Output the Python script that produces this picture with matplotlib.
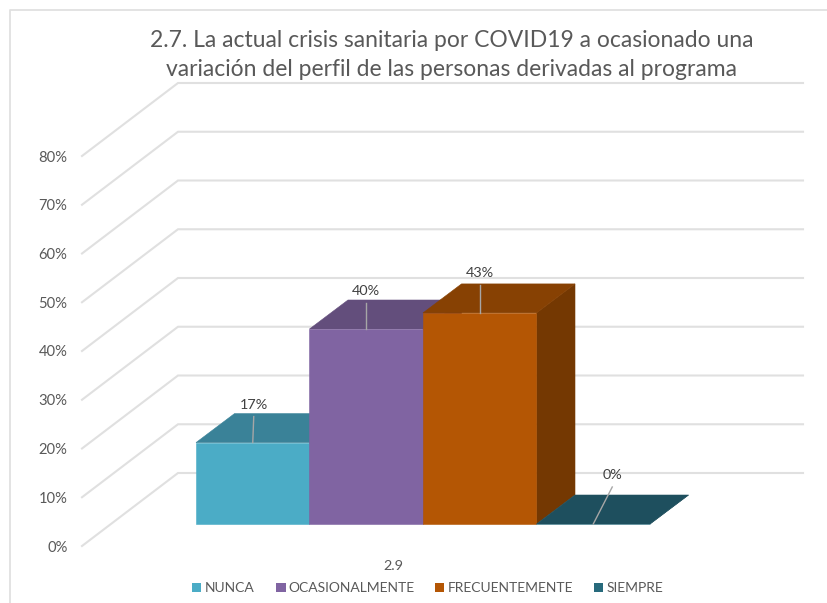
import matplotlib
matplotlib.use("Agg")
import matplotlib.pyplot as plt
from matplotlib.patches import Polygon, Rectangle

title = "2.7. La actual crisis sanitaria por COVID19 a ocasionado una\nvariación del perfil de las personas derivadas al programa"
categories = ["NUNCA", "OCASIONALMENTE", "FRECUENTEMENTE", "SIEMPRE"]
values = [16.7, 40, 43.3, 0]
value_labels = ["17%", "40%", "43%", "0%"]
axis_ticks = [0, 10, 20, 30, 40, 50, 60, 70, 80]
axis_name = "2.9"

front_colors = ["#4BACC6", "#8064A2", "#B45604", "#276A7C"]
top_colors = ["#3A8298", "#634E7C", "#874103", "#1E4F5E"]
side_colors = ["#2F6C7E", "#523F68", "#743802", "#1A4552"]

W, H = 828, 603
plt.rcParams["font.family"] = ["Lato", "DejaVu Sans"]

fig = plt.figure(figsize=(W / 100, H / 100), dpi=100)
ax = fig.add_axes([0, 0, 1, 1])

# x is in bar widths, y in percent. 113.5 px per bar, 4.875 px per percent
bar_px = 113.5
pct_px = 4.875
ax.set_xlim(-196 / bar_px, (W - 196) / bar_px)
ax.set_ylim(-(H - 524) / pct_px, 524 / pct_px)
ax.axis("off")


def dx(px):
    return px / bar_px


def dy(px):
    return px / pct_px


# oblique depth of the bars and of the whole floor
depth_x, depth_y = dx(38.5), dy(29)
wall_x, wall_y = dx(96), dy(73)
front_x, front_y = dx(82 - 196), dy(524 - 546)
right_x = dx(803 - 196)

grid_color = "#E0E0E0"
text_color = "#595959"

# border of the chart area, there is no right or bottom edge in the crop
ax.plot([dx(10 - 196)] * 2 + [dx(W - 196)], [-(H - 524) / pct_px, 524 / pct_px - dy(9.5), 524 / pct_px - dy(9.5)],
        color="#E0E0E0", lw=1.3, zorder=1)

for t in axis_ticks:
    ax.plot([front_x, front_x + wall_x, right_x],
            [front_y + t, front_y + t + wall_y, front_y + t + wall_y],
            color=grid_color, lw=1.5, zorder=2, solid_joinstyle="miter")
    ax.text(front_x - dx(14.5), front_y + t - dy(1.5), f"{t}%", ha="right", va="center",
            fontsize=10.6, color=text_color, zorder=5)

for i, v in enumerate(values):
    top = [(i, v), (i + 1, v), (i + 1 + depth_x, v + depth_y), (i + depth_x, v + depth_y)]
    side = [(i + 1, 0), (i + 1 + depth_x, depth_y), (i + 1 + depth_x, v + depth_y), (i + 1, v)]
    # thin edge in the face colour closes the seams between faces
    ax.add_patch(Polygon(side, closed=True, fc=side_colors[i], ec=side_colors[i], lw=0.4, zorder=3 + i * 0.1))
    ax.add_patch(Polygon(top, closed=True, fc=top_colors[i], ec=top_colors[i], lw=0.4, zorder=3 + i * 0.1))
    ax.add_patch(Rectangle((i, 0), 1, v, fc=front_colors[i], ec=front_colors[i], lw=0.4, zorder=3.05 + i * 0.1))

# value labels with their leader lines
label_shift = [(1, 38), (0, 38), (0, 40), (19, 49)]
for i, lab in enumerate(value_labels):
    sx, sy = label_shift[i]
    x0 = i + 0.5
    y0 = values[i]
    x1 = x0 + dx(sx)
    y1 = y0 + dy(sy)
    ax.plot([x0, x1], [y0, y0 + dy(sy - 12)], color="#A6A6A6", lw=1, zorder=4)
    ax.text(x1, y1, lab, ha="center", va="center", fontsize=10.4, color="#404040", zorder=5)

ax.text(dx(393 - 196), dy(524 - 565.5), axis_name, ha="center", va="center", fontsize=10.4, color=text_color)

# legend laid out by hand so the spacing follows the picture
legend_px = [192, 276, 435, 594]
for c, name, px in zip(front_colors, categories, legend_px):
    ax.add_patch(Rectangle((dx(px - 196), dy(524 - 592)), dx(9.5), dy(9.5), fc=c, ec="none"))
    ax.text(dx(px + 12.5 - 196), dy(524 - 587.5), name, ha="left", va="center", fontsize=10, color=text_color)

ax.text(dx(451.5 - 196), dy(524 - 55), title, ha="center", va="center", fontsize=16.45, color=text_color, linespacing=1.42)

fig.savefig("out.png", dpi=100, facecolor="white")
